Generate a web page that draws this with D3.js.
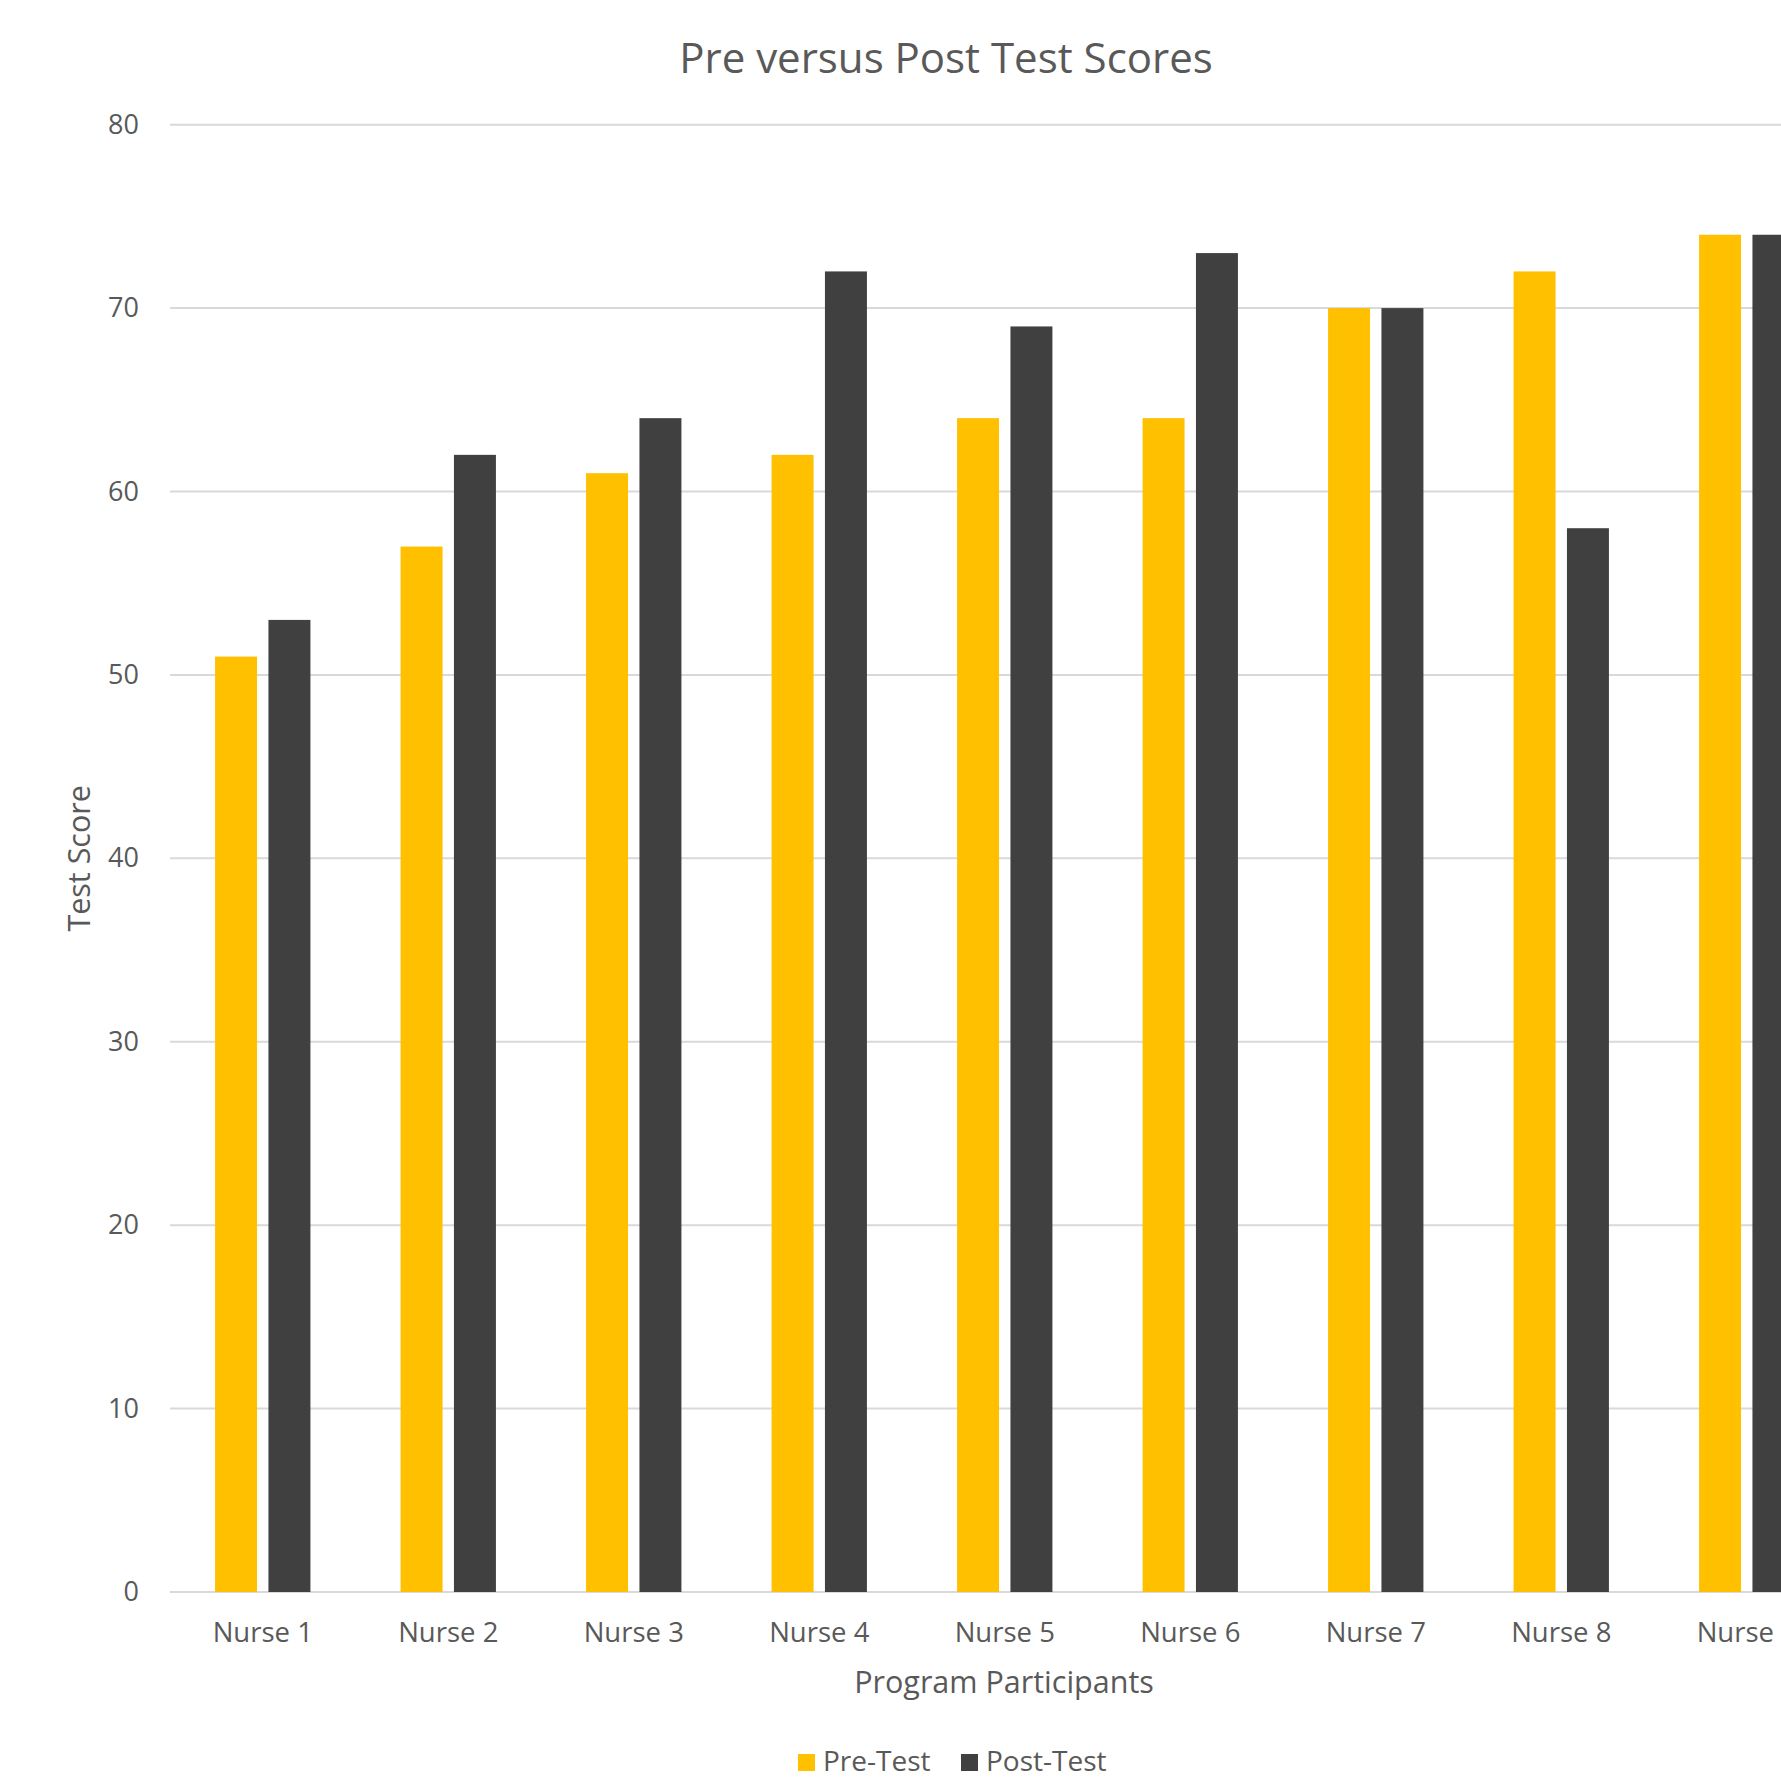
<!DOCTYPE html>
<html>
<head>
<meta charset="utf-8">
<script src="https://cdn.jsdelivr.net/npm/d3@7"></script>
<style>
	html, body { margin: 0; padding: 0; background: #fff; overflow: hidden; }
	#chart { width: 1781px; height: 1777px; overflow: hidden; }
	text { font-family: "Open Sans", "Noto Sans", sans-serif; fill: #595959; }
</style>
</head>
<body>
<div id="chart"></div>
<script>
const width = 1781, height = 1777;

// data
const nurses = ["Nurse 1", "Nurse 2", "Nurse 3", "Nurse 4", "Nurse 5", "Nurse 6", "Nurse 7", "Nurse 8", "Nurse 9"];
const preTest = [51, 57, 61, 62, 64, 64, 70, 72, 74];
const postTest = [53, 62, 64, 72, 69, 73, 70, 58, 74];
const seriesNames = ["Pre-Test", "Post-Test"];
const seriesColors = ["#FFC000", "#404040"];
const yTicks = [0, 10, 20, 30, 40, 50, 60, 70, 80];

// plot area runs past the right edge of the picture (chart is cropped)
const plot = { left: 170, right: 1839.5, top: 124.7, bottom: 1592 };

const svg = d3.select("#chart")
	.append("svg")
	.attr("width", width)
	.attr("height", height);

const x = d3.scaleBand()
	.domain(nurses)
	.range([plot.left, plot.right])
	.paddingInner(0.486)
	.paddingOuter(0.243);

const xSeries = d3.scaleBand()
	.domain(seriesNames)
	.range([0, x.bandwidth()])
	.paddingInner(0.2135);

const y = d3.scaleLinear()
	.domain([0, 80])
	.range([plot.bottom, plot.top]);

// gridlines
svg.append("g")
	.selectAll("line")
	.data(yTicks)
	.enter()
	.append("line")
	.attr("x1", plot.left)
	.attr("x2", plot.right)
	.attr("y1", d => y(d))
	.attr("y2", d => y(d))
	.attr("stroke", "#d9d9d9")
	.attr("stroke-width", 2);

// y tick labels
const yAxis = svg.append("g")
	.attr("transform", `translate(${plot.left},0)`)
	.call(d3.axisLeft(y).tickValues(yTicks).tickSize(0).tickPadding(31));
yAxis.select(".domain").remove();
yAxis.selectAll("text")
	.attr("font-size", 27)
	.attr("font-family", null)
	.attr("fill", "#595959");

// bars
const rows = nurses.map((n, i) => ({ name: n, values: [preTest[i], postTest[i]] }));

const groups = svg.append("g")
	.selectAll("g")
	.data(rows)
	.enter()
	.append("g")
	.attr("transform", d => `translate(${x(d.name)},0)`);

groups.selectAll("rect")
	.data(d => d.values.map((v, j) => ({ key: seriesNames[j], value: v, color: seriesColors[j] })))
	.enter()
	.append("rect")
	.attr("x", d => xSeries(d.key))
	.attr("width", xSeries.bandwidth())
	.attr("y", d => y(d.value))
	.attr("height", d => y(0) - y(d.value))
	.attr("fill", d => d.color);

// x tick labels
const xAxis = svg.append("g")
	.attr("transform", `translate(0,${plot.bottom})`)
	.call(d3.axisBottom(x).tickSize(0).tickPadding(30));
xAxis.select(".domain").remove();
xAxis.selectAll("text")
	.attr("font-size", 27.5)
	.attr("font-family", null)
	.attr("fill", "#595959");

// title
svg.append("text")
	.attr("x", 946)
	.attr("y", 73)
	.attr("text-anchor", "middle")
	.attr("font-size", 42)
	.text("Pre versus Post Test Scores");

// axis titles
svg.append("text")
	.attr("x", 1004)
	.attr("y", 1693)
	.attr("text-anchor", "middle")
	.attr("font-size", 30.5)
	.text("Program Participants");

svg.append("text")
	.attr("transform", `translate(90,${(plot.top + plot.bottom) / 2}) rotate(-90)`)
	.attr("text-anchor", "middle")
	.attr("font-size", 30.5)
	.text("Test Score");

// legend
const legend = svg.append("g")
	.selectAll("g")
	.data(seriesNames)
	.enter()
	.append("g")
	.attr("transform", (d, i) => `translate(${[798, 961][i]},1754)`);

legend.append("rect")
	.attr("width", 17)
	.attr("height", 17)
	.attr("fill", (d, i) => seriesColors[i]);

legend.append("text")
	.attr("x", 25)
	.attr("y", 17)
	.attr("font-size", 28)
	.text(d => d);
</script>
</body>
</html>
